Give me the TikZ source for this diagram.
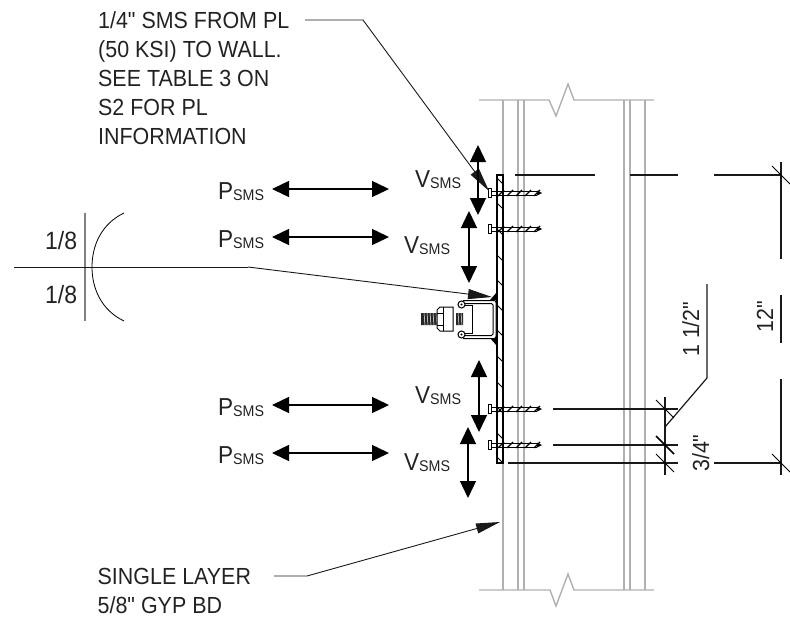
\documentclass[tikz,border=0pt]{standalone}
\usepackage{fontspec}
\setmainfont[Ligatures=TeXOff,FakeStretch=0.92]{Liberation Sans}
\usetikzlibrary{arrows.meta}
\definecolor{txt}{HTML}{222222}
\definecolor{wallc}{HTML}{B0B0B0}
\newcommand\forcelabel[1]{{\fontsize{24.5}{24}\selectfont #1\raisebox{-1.5pt}{\fontsize{15.5}{14}\selectfont SMS}}}
\tikzset{
  wall/.style={draw=wallc,line width=1.4pt,line join=miter},
  dimline/.style={draw=black!90,line width=1.2pt},
  thin leader/.style={draw=black!90,line width=0.9pt},
  load/.style={draw=black,line width=1.4pt,{Triangle[length=17pt,width=16pt]}-{Triangle[length=17pt,width=16pt]}},
  wedge/.style={thin leader,-{Triangle[length=24pt,width=10pt]}},
  lbl/.style={text=txt,inner sep=0pt,anchor=base west,font=\fontsize{23.3}{29}\selectfont},
  force/.style={text=txt,inner sep=0pt,anchor=base west},
  vlbl/.style={lbl,rotate=90},
  tick/.style={draw=black,line width=1pt},
  screw/.pic={
    \fill[white,draw=black,line width=1pt] (-3,-4.5) rectangle (0,4.5);
    \draw[black,line width=0.8pt] (0,-2) -- (46,-2) (0,2) -- (46,2);
    \fill[black] (46,-2.5) -- (51,0) -- (46,2.5) -- cycle;
    \foreach \t in {10,19,...,46} {\draw[black,line width=1.2pt] (\t-3,3) -- (\t+3,-3);}
  }
}
\begin{document}
\begin{tikzpicture}[x=1pt,y=-1pt]
\useasboundingbox (0,0) rectangle (790,621);
% wall
\draw[wall] (479,100) -- (549,100) -- (556,116) -- (568,84) -- (574,100) -- (654,100);
\draw[wall] (479,590) -- (550,590) -- (556,606) -- (568,574) -- (574,590) -- (654,590);
\foreach \x in {503,518,524,624,630,645} {\draw[wall] (\x,100) -- (\x,590);}
% plate
\draw[draw=black,fill=white,line width=1.2pt] (497,175) rectangle (503,463);
\foreach \y in {178,203,229,255,280,305,330,356,382,407,433,457} {\draw[black,line width=0.9pt] (497,\y) -- (503,\y+6);}
% screws
\foreach \n/\y in {a/193,b/229,c/409,d/445} {\pic (screw\n) at (491,\y) {screw};}
% channel
\fill[black] (490,300) -- (497,292) -- (497,300) -- cycle;
\fill[black] (490,338) -- (497,346) -- (497,338) -- cycle;
\draw[black,line width=1pt,fill=white,rounded corners=2pt] (463,300.5) -- (496,300.5) -- (496,338.5) -- (463,338.5);
\draw[black,line width=1pt,rounded corners=1.5pt] (463,303.5) -- (493,303.5) -- (493,335.5) -- (463,335.5);
\draw[black,line width=1pt] (465,305.5) -- (472,305.5) -- (472,333.5) -- (465,333.5);
\draw[black,line width=1pt,fill=white] (461.5,304.5) circle (3.5) (461.5,334.5) circle (3.5);
\fill[black] (461.5,304.5) circle (1.2) (461.5,334.5) circle (1.2);
% bolt
\fill[black!85] (421,313) rectangle (437,325) (456,313) rectangle (463,325);
\foreach \x in {424,427,...,436} {\draw[white,line width=0.5pt] (\x,313) -- (\x+1,325);}
\foreach \x in {458,461} {\draw[white,line width=0.5pt] (\x,313) -- (\x+1,325);}
\draw[black,line width=1pt,fill=white] (437,310) -- (440,307) -- (453,307) -- (453,331) -- (440,331) -- (437,328) -- cycle;
\draw[black,line width=0.8pt] (443,307) -- (443,331) (437,313) -- (443,313) (437,325) -- (443,325);
% dimension lines
\draw[dimline] (515,175) -- (595,175) (630,175) -- (678,175) (714,175) -- (781,175);
\draw[dimline] (508,463) -- (678,463) (714,463) -- (781,463);
\draw[dimline] (553,409) -- (678,409);
\draw[dimline,line width=1.6pt] (553,445) -- (678,445);
\draw[dimline] (665,397) -- (665,475);
\draw[dimline] (781,162) -- (781,259) (781,295) -- (781,343) (781,379) -- (781,475);
\coordinate (shelf) at (707,378);
\draw[dimline] (665,427) -- (shelf) -- (707,284);
\foreach \p in {(665,409),(665,463),(781,175),(781,463)} {\draw[tick] \p ++(-9,-9) -- ++(18,18);}
\draw[tick,line width=1.6pt] (665,445) ++(-9,-9) -- ++(18,18);
% weld symbol
\coordinate (weldend) at (248,267);
\coordinate (weldtip) at (492,297);
\draw[draw=gray,line width=1.2pt] (85,213) -- (85,321);
\draw[thin leader] (14,267) -- (weldend);
\draw[wedge] (weldend) -- (weldtip);
\draw[draw=black,line width=0.8pt] (124,213) .. controls (101,224) and (92,246) .. (92,267) .. controls (92,288) and (101,310) .. (124,321);
\node[lbl,font=\fontsize{25}{25}\selectfont] (w1) at (45,249) {1/8};
\node[lbl,font=\fontsize{25}{25}\selectfont] (w2) at (45,303) {1/8};
% notes and leaders
\node[lbl,anchor=north west,align=left] (note1) at (98,11) {1/4" SMS FROM PL\\(50 KSI) TO WALL.\\SEE TABLE 3 ON\\S2 FOR PL\\INFORMATION};
\coordinate (n1a) at (305,20);
\coordinate (n1b) at (363,20);
\coordinate (n1c) at (489,191);
\draw[wedge] (n1a) -- (n1b) -- (n1c);
\node[lbl] (note2a) at (97.5,584) {SINGLE LAYER};
\node[lbl] (note2b) at (97.5,613) {5/8" GYP BD};
\coordinate (n2a) at (274,576);
\coordinate (n2b) at (307,576);
\coordinate (n2c) at (500,522);
\draw[wedge] (n2a) -- (n2b) -- (n2c);
% loads
\foreach \n/\y/\t in {a/189/199,b/237/247,c/405/415,d/453/463} {
  \node[force] (P\n) at (218,\t) {\forcelabel{P}};
  \coordinate (Pl\n) at (272,\y);
  \coordinate (Pr\n) at (389,\y);
  \draw[load] (Pl\n) -- (Pr\n);
}
\foreach \n/\x/\yt/\yb/\lx/\t in {a/478/145/215/415/187,b/469/211/283/404/253,c/479/360/432/415/403,d/468/427/498/404/470} {
  \node[force] (V\n) at (\lx,\t) {\forcelabel{V}};
  \coordinate (Vt\n) at (\x,\yt);
  \coordinate (Vb\n) at (\x,\yb);
  \draw[load] (Vt\n) -- (Vb\n);
}
% dimension text
\node[vlbl] (d1) at (699,357) {1 1/2"};
\node[vlbl] (d2) at (773,333) {12"};
\node[vlbl] (d3) at (709,472) {3/4"};
\end{tikzpicture}
\end{document}
